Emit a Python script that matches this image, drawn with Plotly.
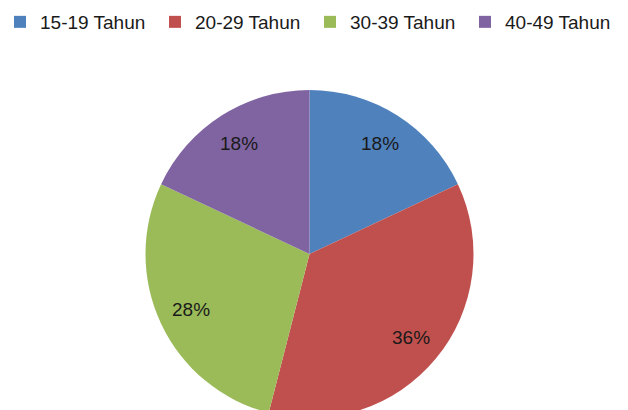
import math
import plotly.graph_objects as go

categories = ["15-19 Tahun", "20-29 Tahun", "30-39 Tahun", "40-49 Tahun"]
values = [18, 36, 28, 18]
colors = ["#4F81BD", "#C0504D", "#9BBB59", "#8064A2"]

W, H = 628, 418
M = dict(l=0, r=9, t=90, b=0)
FONT = dict(family="Liberation Sans", size=19, color="#1a1a1a")

fig = go.Figure(go.Pie(
    labels=categories,
    values=values,
    sort=False,
    direction="clockwise",
    rotation=0,
    marker=dict(colors=colors, line=dict(width=0)),
    textinfo="none",
    hoverinfo="label+percent",
))

# percentage labels placed along each slice's bisector at 80% of the radius
plot_w = W - M["l"] - M["r"]
plot_h = H - M["t"] - M["b"]
radius_px = min(plot_w, plot_h) / 2
label_r = 0.8 * radius_px
total = sum(values)
cum = 0
for v in values:
    mid = (cum + v / 2) / total * 2 * math.pi
    cum += v
    dx = label_r * math.sin(mid)
    dy = label_r * math.cos(mid)
    fig.add_annotation(
        x=0.5 + dx / plot_w, y=0.5 + dy / plot_h,
        xref="paper", yref="paper",
        text=f"{round(v / total * 100)}%",
        showarrow=False,
        font=FONT,
        xanchor="center", yanchor="middle",
    )

fig.update_layout(
    width=W, height=H,
    margin=M,
    paper_bgcolor="white",
    plot_bgcolor="white",
    font=FONT,
    legend=dict(
        orientation="h",
        xref="container", yref="container",
        x=0, y=1 - 3 / H,
        xanchor="left", yanchor="top",
        entrywidth=110,
        font=FONT,
        traceorder="normal",
    ),
    showlegend=True,
)

fig.write_html(
    "out.html",
    post_script="document.body.style.overflow='hidden';document.documentElement.style.overflow='hidden';document.body.style.margin='0';",
)
